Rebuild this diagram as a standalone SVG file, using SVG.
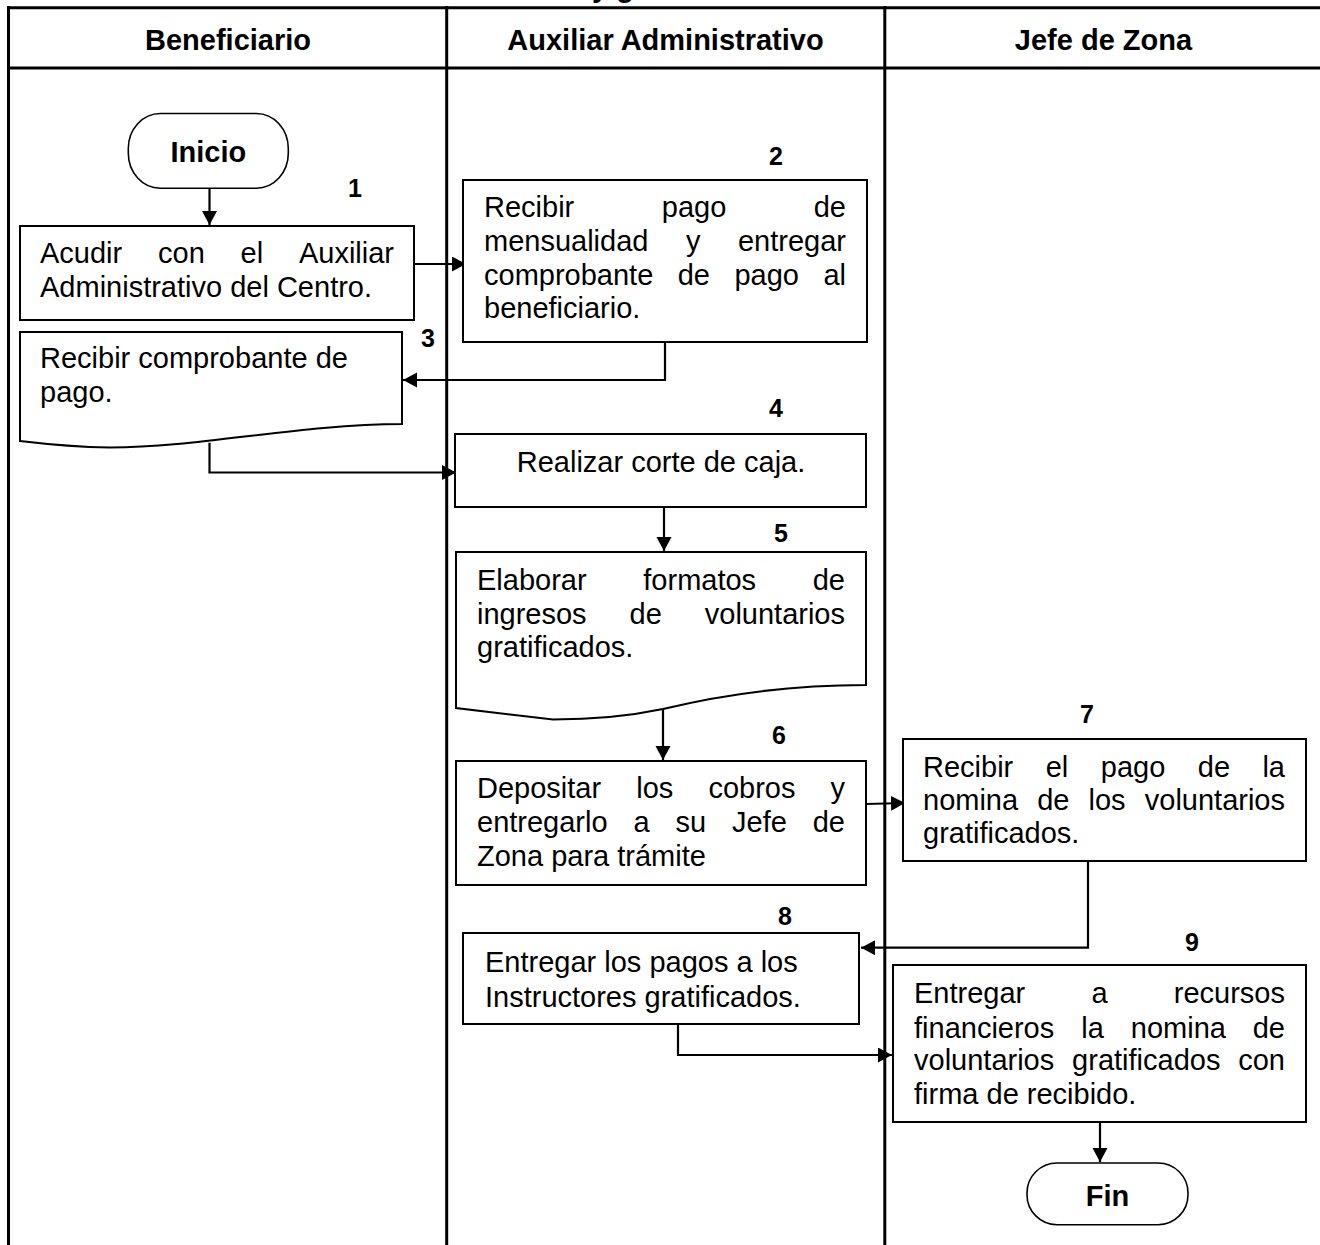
<svg xmlns="http://www.w3.org/2000/svg" width="1320" height="1245" viewBox="0 0 1320 1245">
<style>
text{font-family:"Liberation Sans",Arial,Helvetica,sans-serif;fill:#000}
.t{font-size:29px}
.h{font-size:29px;font-weight:bold}
.n{font-size:25px;font-weight:bold;text-anchor:middle}
.e{text-anchor:end}
.m{text-anchor:middle}
.box{fill:#fff;stroke:#000;stroke-width:2}
.term{fill:#fff;stroke:#000;stroke-width:1.6}
.lane{stroke:#000;stroke-width:3;fill:none}
.con{stroke:#000;stroke-width:2.2;fill:none}
</style>
<defs>
<marker id="ah" markerUnits="userSpaceOnUse" markerWidth="16" markerHeight="16" refX="14" refY="7.5" orient="auto">
<path d="M0,0 L14,7.5 L0,15 Z" fill="#000"/>
</marker>
</defs>
<rect width="1320" height="1245" fill="#fff"/>
<text class="h" x="592" y="-3">y g</text>
<g id="lanes">
<line class="lane" x1="8.5" y1="6" x2="8.5" y2="1245"/>
<line class="lane" x1="7" y1="7.7" x2="1320" y2="7.7"/>
<line class="lane" x1="7" y1="68" x2="1320" y2="68" stroke-width="2.7"/>
<line class="lane" x1="446.7" y1="6" x2="446.7" y2="1245"/>
<line class="lane" x1="884.8" y1="6" x2="884.8" y2="1245"/>
<text class="h m" x="228" y="50">Beneficiario</text>
<text class="h m" x="665.5" y="50">Auxiliar Administrativo</text>
<text class="h m" x="1103.5" y="50">Jefe de Zona</text>
</g>
<g id="connectors">
<line class="con" x1="209.5" y1="188" x2="209.5" y2="225" marker-end="url(#ah)"/>
<line class="con" x1="414" y1="264" x2="466" y2="264" marker-end="url(#ah)"/>
<polyline class="con" points="665,342 665,380 403,380" marker-end="url(#ah)"/>
<polyline class="con" points="209.5,442.7 209.5,472.5 456,472.5" marker-end="url(#ah)"/>
<line class="con" x1="664" y1="507" x2="664" y2="551" marker-end="url(#ah)"/>
<line class="con" x1="663" y1="709" x2="663" y2="760" marker-end="url(#ah)"/>
<line class="con" x1="866" y1="804" x2="905" y2="803" marker-end="url(#ah)"/>
<polyline class="con" points="1088,861 1088,947.7 861,947.7" marker-end="url(#ah)"/>
<polyline class="con" points="678,1024 678,1055 892,1055" marker-end="url(#ah)"/>
<line class="con" x1="1100" y1="1122" x2="1100" y2="1162" marker-end="url(#ah)"/>
</g>
<g id="inicio">
<rect class="term" x="128.3" y="113.5" width="160" height="74.8" rx="32" ry="35"/>
<text class="h m" x="208.3" y="161.7">Inicio</text>
</g>
<g id="step1">
<text class="n" x="355" y="197">1</text>
<rect class="box" x="20" y="226" width="394" height="94"/>
<text class="t" x="40" y="263">Acudir</text>
<text class="t" x="158" y="263">con</text>
<text class="t" x="240.5" y="263">el</text>
<text class="t e" x="394" y="263">Auxiliar</text>
<text class="t" x="40" y="297">Administrativo del Centro.</text>
</g>
<g id="step2">
<text class="n" x="776" y="165">2</text>
<rect class="box" x="463" y="180" width="404" height="162"/>
<text class="t" x="484" y="217">Recibir</text>
<text class="t" x="661.8" y="217">pago</text>
<text class="t e" x="846" y="217">de</text>
<text class="t" x="484" y="251">mensualidad</text>
<text class="t" x="686" y="251">y</text>
<text class="t e" x="846" y="251">entregar</text>
<text class="t" x="484" y="285">comprobante</text>
<text class="t" x="677.7" y="285">de</text>
<text class="t" x="734.4" y="285">pago</text>
<text class="t e" x="846" y="285">al</text>
<text class="t" x="484" y="318">beneficiario.</text>
</g>
<g id="step3">
<text class="n" x="428" y="347">3</text>
<path class="box" d="M20,332 H402 V424 C300,424 200,447.5 110,447.5 Q70,447 20,441 Z"/>
<text class="t" x="40" y="368">Recibir comprobante de</text>
<text class="t" x="40" y="402">pago.</text>
</g>
<g id="step4">
<text class="n" x="776" y="417">4</text>
<rect class="box" x="455" y="434" width="411" height="73"/>
<text class="t m" x="661" y="472">Realizar corte de caja.</text>
</g>
<g id="step5">
<text class="n" x="781" y="542">5</text>
<path class="box" d="M456,552 H866 V685 C770,685 700,700 663,709 C620,718 585,719.5 553,719.5 L456,708 Z"/>
<text class="t" x="477" y="590">Elaborar</text>
<text class="t" x="643.3" y="590">formatos</text>
<text class="t e" x="845" y="590">de</text>
<text class="t" x="477" y="624">ingresos</text>
<text class="t" x="629.6" y="624">de</text>
<text class="t e" x="845" y="624">voluntarios</text>
<text class="t" x="477" y="657">gratificados.</text>
</g>
<g id="step6">
<text class="n" x="779" y="744">6</text>
<rect class="box" x="456" y="761" width="410" height="124"/>
<text class="t" x="477" y="798">Depositar</text>
<text class="t" x="636.2" y="798">los</text>
<text class="t" x="708.4" y="798">cobros</text>
<text class="t e" x="845" y="798">y</text>
<text class="t" x="477" y="832">entregarlo</text>
<text class="t" x="633.5" y="832">a</text>
<text class="t" x="675.5" y="832">su</text>
<text class="t" x="732" y="832">Jefe</text>
<text class="t e" x="845" y="832">de</text>
<text class="t" x="477" y="866">Zona para trámite</text>
</g>
<g id="step7">
<text class="n" x="1087" y="722.6">7</text>
<rect class="box" x="903" y="739" width="403" height="122"/>
<text class="t" x="923" y="776.5">Recibir</text>
<text class="t" x="1045.7" y="776.5">el</text>
<text class="t" x="1100.8" y="776.5">pago</text>
<text class="t" x="1197.8" y="776.5">de</text>
<text class="t e" x="1285" y="776.5">la</text>
<text class="t" x="923" y="809.6">nomina</text>
<text class="t" x="1037.2" y="809.6">de</text>
<text class="t" x="1088.5" y="809.6">los</text>
<text class="t e" x="1285" y="809.6">voluntarios</text>
<text class="t" x="923" y="843.4">gratificados.</text>
</g>
<g id="step8">
<text class="n" x="785" y="925">8</text>
<rect class="box" x="463" y="933" width="396" height="91"/>
<text class="t" x="485" y="971.7">Entregar los pagos a los</text>
<text class="t" x="485" y="1006.7">Instructores gratificados.</text>
</g>
<g id="step9">
<text class="n" x="1192" y="951">9</text>
<rect class="box" x="893" y="965" width="413" height="157"/>
<text class="t" x="914" y="1002.7">Entregar</text>
<text class="t" x="1091.5" y="1002.7">a</text>
<text class="t e" x="1285" y="1002.7">recursos</text>
<text class="t" x="914" y="1037.5">financieros</text>
<text class="t" x="1081.2" y="1037.5">la</text>
<text class="t" x="1130.8" y="1037.5">nomina</text>
<text class="t e" x="1285" y="1037.5">de</text>
<text class="t" x="914" y="1070">voluntarios</text>
<text class="t" x="1072.1" y="1070">gratificados</text>
<text class="t e" x="1285" y="1070">con</text>
<text class="t" x="914" y="1104.3">firma de recibido.</text>
</g>
<g id="fin">
<rect class="term" x="1027" y="1163" width="161" height="61.7" rx="30" ry="30"/>
<text class="h m" x="1107.5" y="1206">Fin</text>
</g>
</svg>
